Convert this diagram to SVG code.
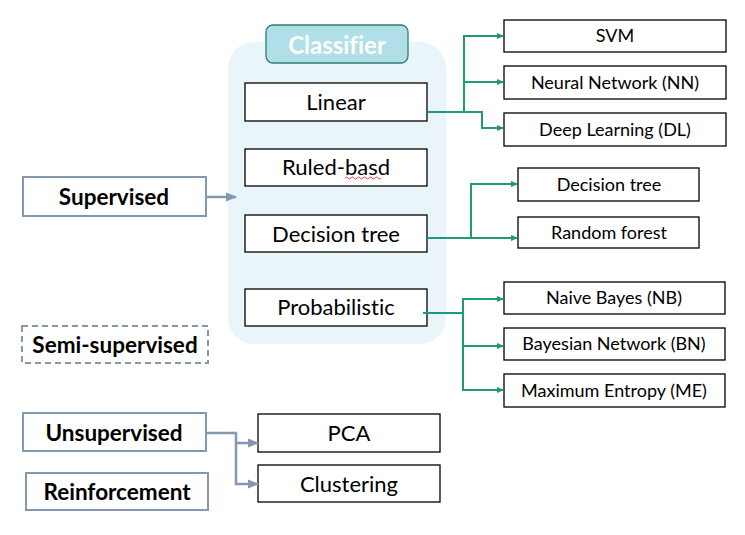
<svg xmlns="http://www.w3.org/2000/svg" width="745" height="535" viewBox="0 0 745 535">
<defs>
<style>
text{font-family:Lato,"Liberation Sans",Arial,sans-serif;fill:#000;text-anchor:middle;dominant-baseline:central;font-variant-ligatures:none}
.box{fill:#fff;stroke:#000;stroke-width:1.3}
.cat{fill:#fff;stroke:#8497B0;stroke-width:2}
.lbl{font-size:22px}
.sm{font-size:18px}
.bold{font-size:22.5px;font-weight:bold}
.g{fill:none;stroke:#1E9A78;stroke-width:2}
.b{fill:none;stroke:#8497B0;stroke-width:2.5}
</style>
<marker id="ag" markerWidth="8" markerHeight="8" refX="6" refY="4" orient="auto" markerUnits="userSpaceOnUse"><path d="M0,1 L7,4 L0,7 Z" fill="#1E9A78"/></marker>
<marker id="ab" markerWidth="12" markerHeight="10" refX="10" refY="5" orient="auto" markerUnits="userSpaceOnUse"><path d="M0,0.5 L11,5 L0,9.5 Z" fill="#8497B0"/></marker>
</defs>
<rect x="228" y="42" width="218" height="302" rx="26" fill="#EAF5FA"/>
<g id="classifier"><rect x="266" y="25" width="142" height="38" rx="7" fill="#B0DFEA" stroke="#2E7D6E" stroke-width="1.3"/><text x="337" y="44" style="font-size:24px;font-weight:bold;fill:#fff">Classifier</text></g>
<g id="linear"><rect class="box" x="245" y="83" width="182" height="38"/><text class="lbl" x="336" y="101">Linear</text></g>
<g id="ruled"><rect class="box" x="245" y="149" width="182" height="37"/><text class="lbl" x="336" y="166">Ruled-basd</text><path d="M345,178 q1.5,-2 3,0 t3,0 t3,0 t3,0 t3,0 t3,0 t3,0 t3,0 t3,0 t3,0 t3,0 t3,0" fill="none" stroke="#E03030" stroke-width="0.9"/></g>
<g id="dtree"><rect class="box" x="245" y="215" width="182" height="37"/><text class="lbl" x="336" y="233">Decision tree</text></g>
<g id="prob"><rect class="box" x="245" y="289" width="182" height="37"/><text class="lbl" x="336" y="306">Probabilistic</text></g>
<g id="supervised"><rect class="cat" x="23" y="177" width="183" height="39"/><text class="bold" x="114" y="196">Supervised</text></g>
<g id="semi"><rect class="cat" x="22" y="326" width="186" height="37" stroke-dasharray="6,4"/><text class="bold" x="115" y="344">Semi-supervised</text></g>
<g id="unsupervised"><rect class="cat" x="23" y="413" width="183" height="38"/><text class="bold" x="114" y="432">Unsupervised</text></g>
<g id="reinforcement"><rect class="cat" x="26" y="473" width="182" height="37"/><text class="bold" x="117" y="491">Reinforcement</text></g>
<g id="pca"><rect class="box" x="258" y="414" width="182" height="38"/><text class="lbl" x="349" y="432">PCA</text></g>
<g id="clustering"><rect class="box" x="258" y="465" width="182" height="37"/><text class="lbl" x="349" y="483">Clustering</text></g>
<g id="svm"><rect class="box" x="504" y="20" width="222" height="32"/><text class="sm" x="615" y="35">SVM</text></g>
<g id="nn"><rect class="box" x="504" y="66" width="222" height="33"/><text class="sm" x="615" y="82">Neural Network (NN)</text></g>
<g id="dl"><rect class="box" x="504" y="113" width="222" height="33"/><text class="sm" x="615" y="129">Deep Learning (DL)</text></g>
<g id="dt2"><rect class="box" x="518" y="168" width="181" height="33"/><text class="sm" x="609" y="184">Decision tree</text></g>
<g id="rf"><rect class="box" x="518" y="217" width="181" height="31"/><text class="sm" x="609" y="232">Random forest</text></g>
<g id="nb"><rect class="box" x="504" y="282" width="221" height="32"/><text class="sm" x="614" y="297">Naive Bayes (NB)</text></g>
<g id="bn"><rect class="box" x="504" y="328" width="221" height="32"/><text class="sm" x="614" y="343">Bayesian Network (BN)</text></g>
<g id="me"><rect class="box" x="504" y="374" width="221" height="33"/><text class="sm" x="614" y="390">Maximum Entropy (ME)</text></g>
<g id="connectors">
<path class="b" d="M206,197 H236" marker-end="url(#ab)"/>
<path class="b" d="M206,433 H236 V484 H258" marker-end="url(#ab)"/>
<path class="b" d="M236,443 H258" marker-end="url(#ab)"/>
<path class="g" d="M427,112 H464 V36 H503" marker-end="url(#ag)"/>
<path class="g" d="M464,82 H503" marker-end="url(#ag)"/>
<path class="g" d="M464,112 H482 V128 H503" marker-end="url(#ag)"/>
<path class="g" d="M427,238 H517" marker-end="url(#ag)"/>
<path class="g" d="M471,238 V184 H517" marker-end="url(#ag)"/>
<path class="g" d="M423,313 H463 V299 H503" marker-end="url(#ag)"/>
<path class="g" d="M463,313 V390 H503" marker-end="url(#ag)"/>
<path class="g" d="M463,346 H503" marker-end="url(#ag)"/>
</g>
</svg>
